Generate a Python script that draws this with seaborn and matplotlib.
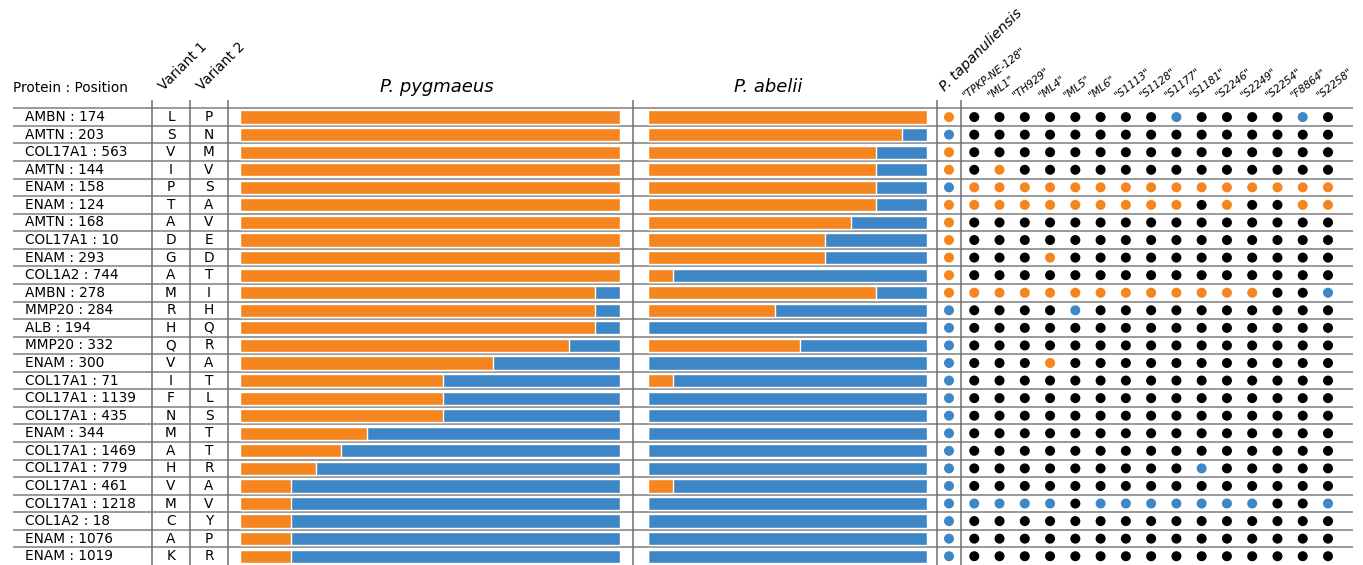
import numpy as np
import pandas as pd
import seaborn as sns
import matplotlib.pyplot as plt

# --- data ---
proteins = ["AMBN : 174", "AMTN : 203", "COL17A1 : 563", "AMTN : 144", "ENAM : 158",
            "ENAM : 124", "AMTN : 168", "COL17A1 : 10", "ENAM : 293", "COL1A2 : 744",
            "AMBN : 278", "MMP20 : 284", "ALB : 194", "MMP20 : 332", "ENAM : 300",
            "COL17A1 : 71", "COL17A1 : 1139", "COL17A1 : 435", "ENAM : 344",
            "COL17A1 : 1469", "COL17A1 : 779", "COL17A1 : 461", "COL17A1 : 1218",
            "COL1A2 : 18", "ENAM : 1076", "ENAM : 1019"]
variant1 = list("LSVIPTADGAMRHQVIFNMAHVMCAK")
variant2 = list("PNMVSAVEDTIHQRATLSTTRAVYPR")

# share of variant 1 (orange) per population
pygmaeus = [1, 1, 1, 1, 1, 1, 1, 1, 1, 1, 0.933, 0.933, 0.933, 0.867, 0.667,
            0.533, 0.533, 0.533, 0.333, 0.267, 0.2, 0.133, 0.133, 0.133, 0.133, 0.133]
abelii = [1, 0.909, 0.818, 0.818, 0.818, 0.818, 0.727, 0.636, 0.636, 0.091,
          0.818, 0.455, 0, 0.545, 0, 0.091, 0, 0, 0, 0, 0, 0.091, 0, 0, 0, 0]

samples = ["P. tapanuliensis", '"TPKP-NE-128"', '"ML1"', '"TH929"', '"ML4"', '"ML5"',
           '"ML6"', '"S1113"', '"S1128"', '"S1177"', '"S1181"', '"S2246"', '"S2249"',
           '"S2254"', '"F8864"', '"S2258"']
# O = variant 1, B = variant 2, K = other / black
genotypes = ["OKKKKKKKKBKKKKBK", "BKKKKKKKKKKKKKKK", "OKKKKKKKKKKKKKKK",
             "OKOKKKKKKKKKKKKK", "BOOOOOOOOOOOOOOO", "OOOOOOOOOOKOKKOO",
             "OKKKKKKKKKKKKKKK", "OKKKKKKKKKKKKKKK", "OKKKOKKKKKKKKKKK",
             "OKKKKKKKKKKKKKKK", "OOOOOOOOOOOOOKKB", "BKKKKBKKKKKKKKKK",
             "BKKKKKKKKKKKKKKK", "BKKKKKKKKKKKKKKK", "BKKKOKKKKKKKKKKK",
             "BKKKKKKKKKKKKKKK", "BKKKKKKKKKKKKKKK", "BKKKKKKKKKKKKKKK",
             "BKKKKKKKKKKKKKKK", "BKKKKKKKKKKKKKKK", "BKKKKKKKKKBKKKKK",
             "BKKKKKKKKKKKKKKK", "BBBBBKBBBBBBBKKB", "BKKKKKKKKKKKKKKK",
             "BKKKKKKKKKKKKKKK", "BKKKKKKKKKKKKKKK"]

orange = "#F5851F"
blue = "#3D87C7"
pal = {"O": orange, "B": blue, "K": "black"}

sns.set_style("white")
plt.rcParams["text.color"] = "black"
W, H = 1363, 565
fig = plt.figure(figsize=(W / 100, H / 100), dpi=100)

TOP = 108.3          # pixel y of the first row line
n = len(proteins)
ROWH = (H - TOP) / n


def px_axes(x0, x1):
    return fig.add_axes([x0 / W, 0, (x1 - x0) / W, (H - TOP) / H])


def py2row(py):
    return (py - TOP) / ROWH - 0.5


# table axes: x in pixels, y in rows
tab = px_axes(0, W)
tab.set_xlim(0, W)
tab.set_ylim(n - 0.5, -0.5)
tab.axis("off")

tab.hlines(np.arange(n) - 0.5, 13, 1353, color="#9a9a9a", lw=1.4, clip_on=False)
tab.vlines([152, 190, 228, 633, 937, 961], py2row(100), n - 0.5,
           color="#6e6e6e", lw=1.1, clip_on=False)

fs = 9.8
for i in range(n):
    tab.text(25, i, proteins[i], ha="left", va="center", fontsize=fs)
    tab.text(171, i, variant1[i], ha="center", va="center", fontsize=fs)
    tab.text(209, i, variant2[i], ha="center", va="center", fontsize=fs)

tab.text(13, py2row(92.5), "Protein : Position", ha="left", va="baseline",
         fontsize=fs, clip_on=False)
tab.text(164, py2row(91), "Variant 1", rotation=45, rotation_mode="anchor",
         ha="left", va="baseline", fontsize=fs, clip_on=False)
tab.text(202, py2row(91), "Variant 2", rotation=45, rotation_mode="anchor",
         ha="left", va="baseline", fontsize=fs, clip_on=False)
tab.text(437, py2row(91.5), "P. pygmaeus", style="italic", ha="center",
         va="baseline", fontsize=13, clip_on=False)
tab.text(768, py2row(91.5), "P. abelii", style="italic", ha="center",
         va="baseline", fontsize=13, clip_on=False)

# stacked bars: blue full width, orange share on top
for (x0, x1), vals in [((240, 620), pygmaeus), ((648, 927), abelii)]:
    ax = px_axes(x0, x1)
    ax.patch.set_alpha(0)
    sns.barplot(x=[1.0] * n, y=proteins, orient="h", color=blue, saturation=1,
                width=0.75, ax=ax)
    sns.barplot(x=vals, y=proteins, orient="h", color=orange, saturation=1,
                width=0.75, ax=ax)
    ax.set_xlim(0, 1)
    ax.set_ylim(n - 0.5, -0.5)
    ax.axis("off")

# genotype dots
step = (1328 - 949) / 15
dots = pd.DataFrame([(c, r, g) for r, row in enumerate(genotypes)
                     for c, g in enumerate(row)], columns=["col", "row", "state"])
axd = px_axes(949 - step / 2, 1328 + step / 2)
axd.patch.set_alpha(0)
sns.scatterplot(data=dots, x="col", y="row", hue="state", palette=pal, s=52,
                linewidth=0, legend=False, ax=axd)
axd.set_xlim(-0.5, 15.5)
axd.set_ylim(n - 0.5, -0.5)
axd.axis("off")

axd.text(-0.15, py2row(92), samples[0], style="italic", rotation=45,
         rotation_mode="anchor", ha="left", va="baseline", fontsize=10.3,
         clip_on=False)
for k in range(1, len(samples)):
    axd.text(k - 0.33, py2row(99), samples[k], style="italic", rotation=38,
             rotation_mode="anchor", ha="left", va="baseline", fontsize=7.6,
             clip_on=False)

fig.savefig("out.png", dpi=100)
